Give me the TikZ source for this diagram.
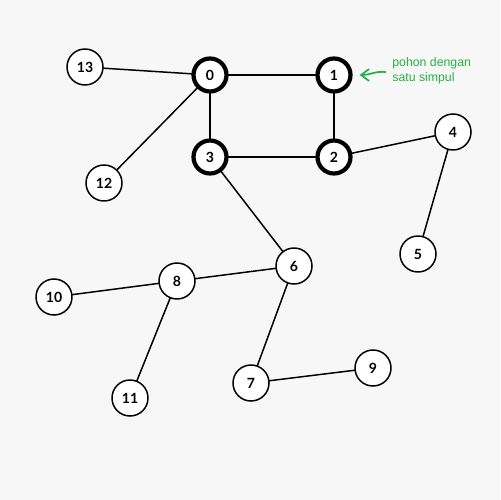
\documentclass[tikz,border=0pt]{standalone}
\usepackage{fontspec}
\setmainfont{Lato}
\newfontfamily\notefont{Liberation Sans}
\usetikzlibrary{arrows.meta}
\definecolor{bgG}{RGB}{247,247,247}
\definecolor{noteG}{RGB}{40,175,70}

\begin{document}
\begin{tikzpicture}[x=0.02cm,y=-0.02cm,
  vtx/.style={circle,draw=black,fill=white,line width=0.85pt,minimum size=0.72cm,inner sep=0pt,font=\fontsize{8}{9}\selectfont\bfseries},
  cyc/.style={vtx,line width=2.4pt,minimum size=0.66cm},
  edge/.style={line width=0.85pt},
  cedge/.style={line width=1.3pt}]
\fill[bgG] (0,0) rectangle (500,500);
\useasboundingbox (0,0) rectangle (500,500);
% edges first, nodes on top
\coordinate (p0) at (210,75);  \coordinate (p1) at (334,75);
\coordinate (p2) at (334,157); \coordinate (p3) at (210,157);
\coordinate (p4) at (453,132); \coordinate (p5) at (418,254);
\coordinate (p6) at (294,266); \coordinate (p7) at (251,383);
\coordinate (p8) at (177,281); \coordinate (p9) at (373,368);
\coordinate (p10) at (54,297); \coordinate (p11) at (130,398);
\coordinate (p12) at (104,183); \coordinate (p13) at (85,67);
\foreach \a/\b in {0/1,1/2,2/3,3/0} \draw[cedge] (p\a)--(p\b);
\foreach \a/\b in {0/13,0/12,2/4,4/5,3/6,6/8,8/10,8/11,6/7,7/9} \draw[edge] (p\a)--(p\b);
% cycle vertices
\foreach \i in {0,1,2,3} \node[cyc] (n\i) at (p\i) {\i};
% tree vertices
\foreach \i in {4,...,13} \node[vtx] (n\i) at (p\i) {\i};
% note
\node[font=\notefont\fontsize{7}{8.2}\selectfont,text=noteG,anchor=west,align=left,inner sep=0pt] (note) at (392,71) {pohon dengan\\satu simpul};
\draw[noteG,line width=1pt,shorten >=4pt,-{Straight Barb[length=1.6mm,width=2.4mm]}] (note.west) ++(-6,1) coordinate (ns) .. controls (375,71) and (370,75) .. (n1.east);
\end{tikzpicture}
\end{document}
